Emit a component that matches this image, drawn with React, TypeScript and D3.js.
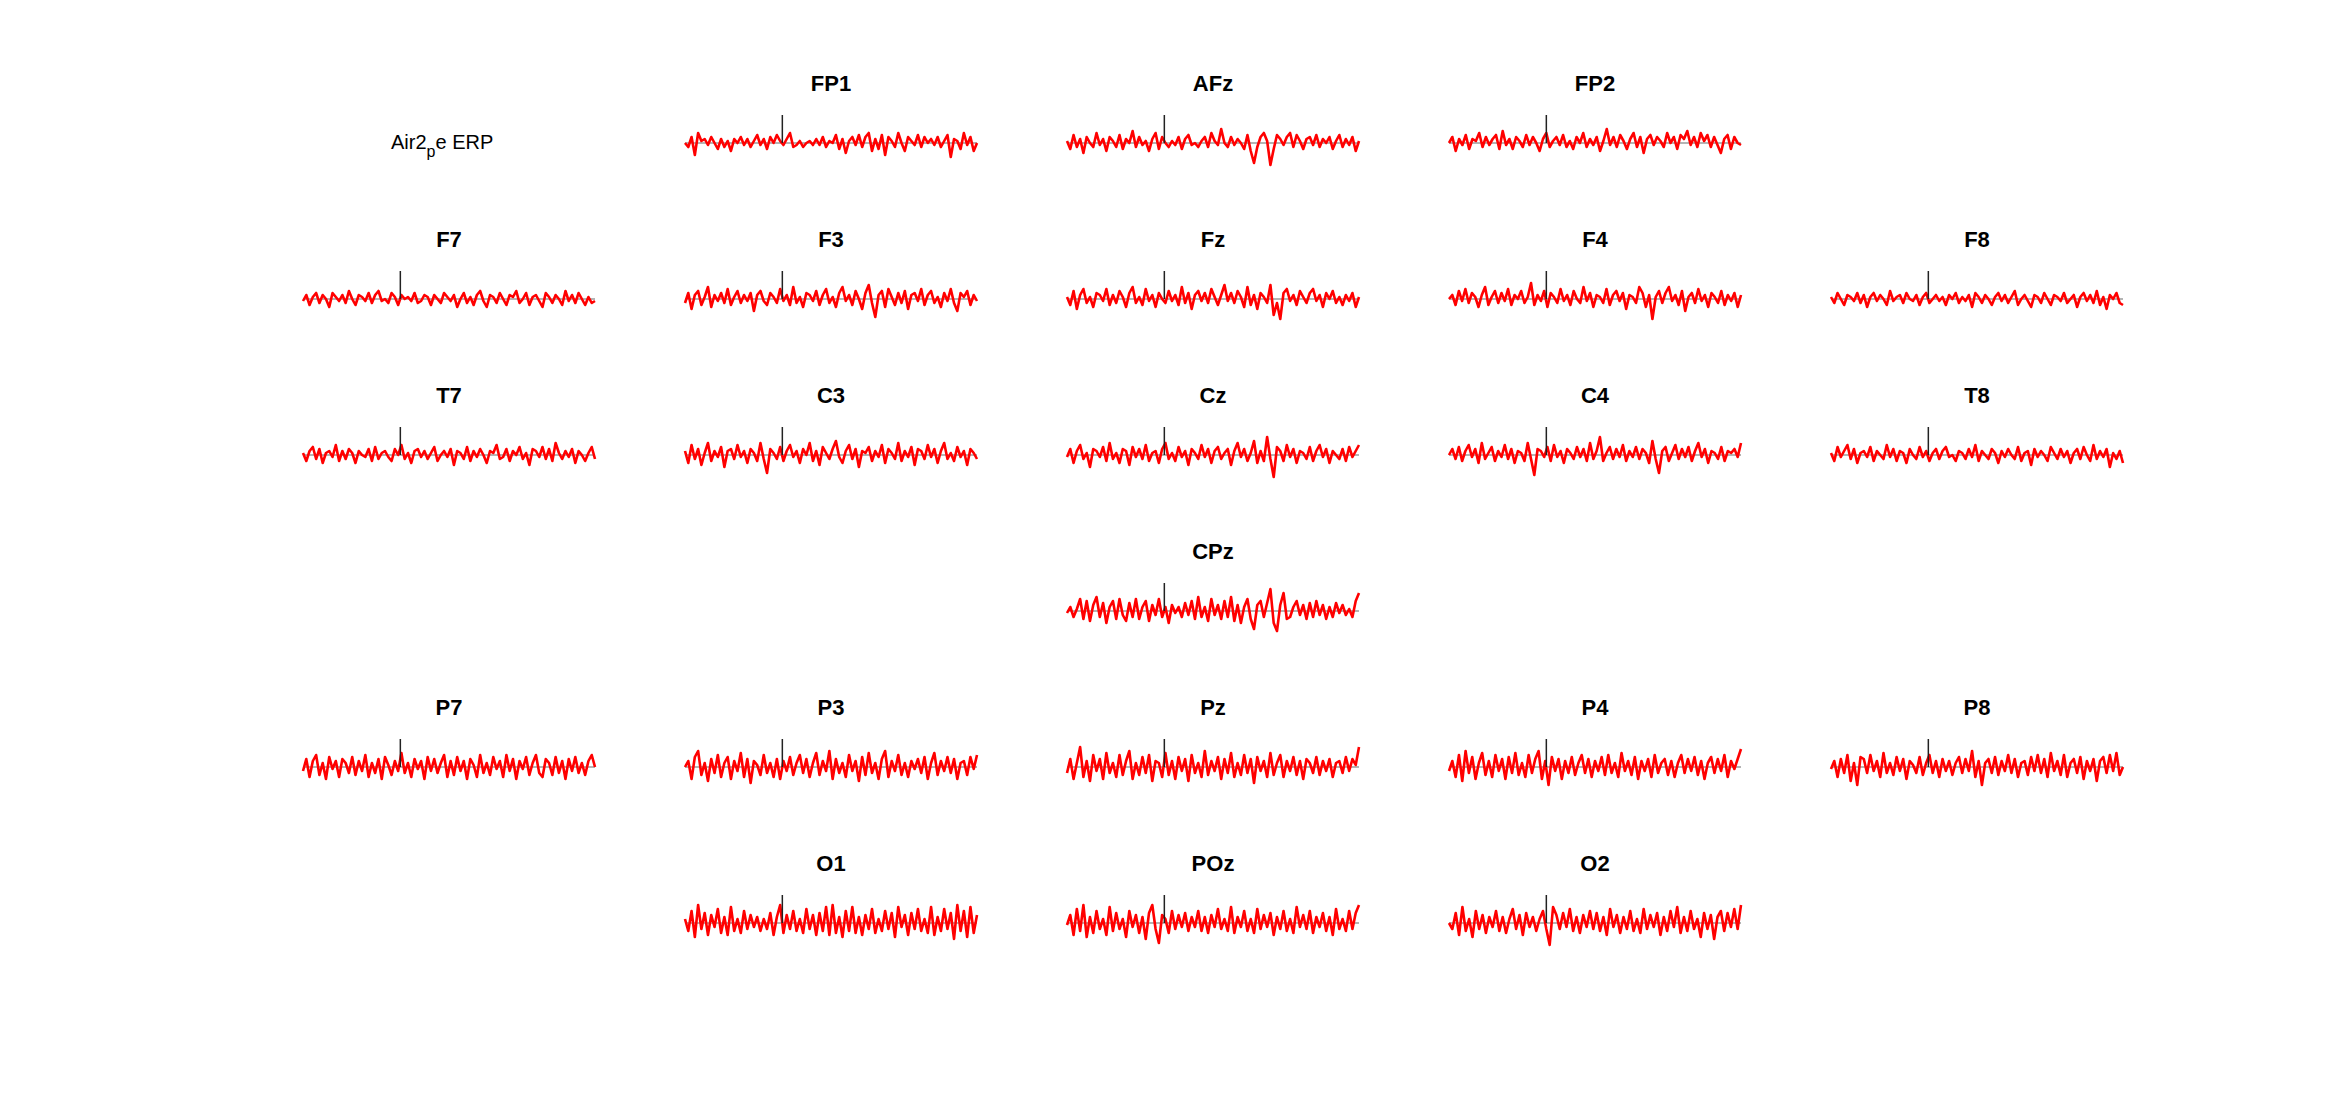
import React from "react";
import * as d3 from "d3";

const WIDTH = 2344;
const HEIGHT = 1094;

const TIME_START = -200;
const TIME_END = 400;
const STIM_LINE_TOP = 14;

const FP1 = [0,-2,3,-6,5,1,2,-1,3,0,-3,2,-2,1,-4,2,0,3,-1,2,-2,1,4,-1,2,-3,3,0,4,1,-1,2,5,-2,-1,1,-2,0,1,-1,2,-1,3,-2,1,0,4,-3,2,-5,1,3,-1,4,-2,3,5,-4,2,-3,4,-6,3,1,-2,5,0,-4,3,1,-1,4,-2,3,0,2,-1,3,-2,1,4,-7,2,1,-3,5,-1,3,-4,0];
const AFz = [1,-3,4,-2,2,-5,3,0,-2,5,-1,2,-4,3,1,-2,4,-3,2,0,6,-2,3,-1,1,-4,2,5,-3,3,0,-2,1,-1,3,-3,2,4,-1,0,-2,1,3,-2,5,1,-1,7,0,-2,3,-1,2,0,-3,4,-4,-10,-2,3,5,1,-11,-3,4,2,-1,3,5,-2,4,1,-3,2,3,-1,4,-2,2,0,3,-3,1,4,-2,2,-1,3,-4,1];
const FP2 = [0,3,-4,2,-1,4,-3,2,1,5,-2,3,-1,2,4,-3,6,-1,2,-3,3,1,-2,4,-1,3,0,-4,2,5,-2,1,3,-1,4,-2,1,-3,3,0,5,-2,2,-1,3,-4,1,7,-1,3,-2,4,1,-3,2,5,-2,3,-5,2,4,-1,3,1,-2,5,0,3,-3,4,2,6,-1,3,-2,5,1,4,-2,3,-1,-5,2,4,-3,3,0,-1];
const F7 = [-1,2,-3,1,3,-2,2,0,-4,3,1,-1,2,-2,4,0,-3,2,1,-1,3,-2,2,4,-1,0,-2,3,1,-3,2,0,1,-1,3,-2,-1,2,1,-3,2,0,-2,3,1,-1,2,-4,0,3,-2,1,-3,2,4,-1,-4,2,1,-2,3,0,-3,2,1,4,-2,0,3,-3,1,2,-1,-4,3,1,-2,2,0,-3,4,-1,2,-2,3,0,-3,1,-2,-1];
const F3 = [-2,3,-5,2,4,-3,1,6,-4,2,-1,3,-2,5,-3,1,4,-2,2,-1,3,-6,2,4,-1,-3,3,1,-2,5,-1,2,-3,6,-2,1,-4,3,2,-1,4,-3,2,5,-2,1,-4,3,6,-1,2,-3,4,0,-5,3,7,-2,-9,2,4,-4,5,1,-3,3,-2,4,-5,2,3,-1,5,-3,2,4,-2,1,-4,3,-1,5,-2,-6,3,1,4,-3,2,-1];
const Fz = [1,-3,4,-5,2,5,-2,1,-4,3,2,-1,5,-3,2,-2,4,1,-4,3,6,-2,1,-3,5,-1,2,-4,3,0,-2,4,-1,2,-3,6,-2,3,-5,2,4,-1,3,-2,5,1,-3,2,7,-1,3,-2,4,1,-4,6,-3,2,-5,3,1,-2,7,-8,-2,-10,3,5,-1,2,-3,4,1,-2,3,5,-1,2,-4,3,0,4,-2,1,-3,2,-1,3,-4,1];
const F4 = [0,2,-3,4,-1,5,-2,3,1,-4,2,6,-3,1,4,-2,3,-1,5,-3,2,0,4,-2,1,8,-3,2,-1,4,-4,3,1,-2,5,-1,2,-3,4,0,-2,6,-1,3,-4,2,1,-2,5,-3,2,4,-1,3,-5,2,1,-2,6,3,-4,2,-10,1,4,-2,3,6,-1,2,-3,4,-6,1,3,-2,5,-1,2,-4,3,1,-2,4,-3,2,-1,3,-4,2];
const F8 = [1,-2,3,0,-3,2,1,-1,3,-2,2,-4,1,3,-1,2,0,-3,4,-1,1,2,-2,3,0,-1,2,-3,1,3,-2,0,2,-1,1,-3,2,0,3,-2,1,-1,2,-4,3,1,-2,2,0,-3,1,3,-1,2,-2,1,4,-3,0,2,-1,-4,2,1,-2,3,0,-3,2,1,-1,3,-2,0,2,-4,1,3,-1,2,-2,4,-3,1,-5,2,0,3,-2,-3];
const T7 = [1,-3,2,4,-2,3,-4,1,2,-1,5,-3,2,-2,3,1,-4,2,0,-1,3,-3,4,-2,1,2,-1,-3,3,0,5,-2,1,-4,2,3,-1,2,-2,1,4,-3,0,2,-1,3,-5,2,1,-2,4,-3,2,-1,3,0,-4,2,1,5,-2,-1,3,-3,2,0,4,-2,1,-5,3,2,-1,4,-2,3,-3,6,1,-2,2,-1,3,-4,2,0,-3,1,4,-2];
const C3 = [2,-4,5,-2,3,-5,1,6,-3,2,-1,4,-6,2,3,-2,5,-1,2,-4,3,1,-3,6,-2,-9,3,1,-2,4,-3,2,5,-1,2,-4,3,0,6,-3,2,-5,4,1,-2,3,7,-1,-4,2,5,-2,3,-6,2,1,4,-3,2,-1,5,-4,3,1,-2,6,-3,2,-1,4,-5,3,2,-2,5,-1,3,-4,2,6,-2,1,-3,4,-1,2,-5,3,1,-2];
const Cz = [-1,3,-4,2,5,-2,1,-6,3,2,-1,4,-3,6,-2,1,-4,3,2,-5,4,-1,3,-2,5,-3,1,2,-4,3,6,-2,1,-3,4,-1,2,-5,3,1,-2,5,-1,3,-4,2,4,-2,1,3,-5,2,6,-1,3,-3,1,7,-4,2,-3,9,-2,-11,4,2,-3,5,-1,3,-4,2,1,-2,4,-3,2,5,-1,3,-4,2,0,-2,3,-3,4,-1,2,5];
const C4 = [0,3,-2,4,-3,2,5,-1,3,-4,6,-2,1,4,-3,2,-1,5,-2,3,-4,2,1,-3,6,-2,-10,3,2,-1,4,-3,5,-1,2,-4,3,1,-2,4,-1,3,-3,6,-2,2,9,-3,1,4,-2,3,-1,5,-3,2,-1,4,-2,3,1,-4,7,-2,-9,2,4,-3,1,5,-2,3,-1,4,-3,2,6,-1,3,-4,2,1,-2,4,-3,2,1,3,-1,6];
const T8 = [1,-3,4,-1,2,5,-2,3,-4,1,2,-1,4,-3,2,0,-2,5,-1,3,-3,2,1,-4,3,0,-2,4,-1,2,-3,1,3,-2,2,4,-1,0,-3,2,1,-2,3,-1,5,-3,2,0,-2,3,1,-4,2,-1,3,0,-2,4,-3,1,2,-5,3,-1,2,0,-3,4,1,-2,3,-1,2,-4,1,3,-2,4,0,-3,5,-2,2,-1,3,-6,1,-2,2,-4];
const CPz = [-1,2,-3,1,6,-4,5,-5,3,7,-3,4,-6,2,5,-4,6,-2,-5,4,-3,6,-4,2,5,-5,3,-2,6,-3,2,-6,3,-1,2,-3,4,-2,5,-4,7,-3,2,-5,6,-2,3,-4,5,-3,7,-5,3,-6,2,6,-4,-9,3,5,-3,4,11,-6,-10,3,9,-4,-3,2,5,-2,3,-4,4,-3,5,-2,3,-4,2,-3,4,-1,3,-2,1,-3,5,9];
const P7 = [-2,4,-5,3,6,-4,2,-6,5,-1,3,-5,4,2,-3,5,-4,3,-2,6,-5,2,-3,4,-6,5,1,-4,3,-2,7,-3,2,-5,4,-1,3,-6,5,-2,4,-3,2,6,-5,3,-4,5,-2,3,-6,4,1,-5,6,-3,2,-4,5,-1,3,-5,6,-2,4,-6,3,-1,5,-4,2,6,-3,-5,4,2,-4,5,-3,3,-6,4,-2,5,-3,2,-4,3,6,0];
const P3 = [0,3,-6,5,8,-4,2,-7,4,-3,6,-5,2,5,-6,3,-2,7,-5,4,-8,3,1,-4,6,-3,2,-5,4,-6,3,-2,5,-4,2,6,-3,4,-5,2,7,-4,3,-2,8,-6,4,-3,2,-5,6,-2,3,-7,5,-4,7,-3,2,-6,4,8,-5,3,-2,6,-4,2,-5,3,-1,4,-3,5,-6,2,7,-4,3,-2,5,-3,4,-6,2,3,-4,5,-1,6];
const Pz = [-3,4,-6,2,10,-5,3,-7,6,-2,4,-6,7,-3,2,-5,6,-4,3,8,-6,2,-4,5,-3,6,-7,3,2,-5,7,-4,3,-6,5,-2,4,-7,6,-3,2,-5,8,-4,3,-2,5,-6,4,-3,7,-5,2,-4,6,-3,4,-8,5,-2,3,-5,7,-4,2,6,-5,3,-2,5,-4,3,-6,4,2,-3,5,-4,3,-2,4,-5,2,3,-3,5,-2,4,1,10];
const P4 = [-2,3,-5,6,-7,8,-3,5,-6,2,7,-4,3,-5,6,-2,4,-6,5,-3,7,-4,2,-5,6,-3,4,8,-6,3,-9,5,-2,4,-6,3,-3,5,-4,2,6,-3,4,-5,3,-2,5,-4,6,-3,2,-5,7,-2,3,-4,5,-6,3,-2,4,-5,6,-3,2,4,-4,3,-5,2,6,-3,4,-2,5,-4,3,-6,2,5,-3,4,-2,6,-5,3,-1,4,9];
const P8 = [-1,3,-5,4,-3,6,-7,2,-9,5,4,-3,6,-2,3,-5,7,-3,2,-4,5,-2,4,-6,3,1,-3,5,-4,2,6,-3,3,-5,4,-2,3,-4,2,5,-3,4,-2,8,-5,3,-9,2,4,-3,5,-4,3,-2,6,-3,4,-5,2,3,-4,5,-2,6,-3,4,-5,7,-2,3,-4,6,-5,2,4,-3,5,-6,3,-2,4,-7,3,5,-3,6,-2,7,-4,0];
const O1 = [2,-4,6,-7,9,-3,5,-6,4,-2,7,-5,3,-6,8,-4,2,-5,6,-3,4,-2,3,-4,2,-3,5,-6,3,9,-5,4,-3,6,-4,2,-5,7,-3,4,-6,5,-4,8,-6,9,-5,3,-7,6,-4,8,-5,3,-6,4,-3,7,-5,2,-4,6,-3,5,-7,8,-2,4,-6,5,-3,7,-4,2,-5,8,-6,3,-4,7,-3,5,-8,9,-4,6,-7,8,-5,4];
const POz = [-1,4,-6,7,-4,9,-7,3,-5,6,-3,2,-6,8,-4,5,-3,2,-7,6,-2,4,-5,3,-8,5,9,-3,-10,4,2,-5,6,-3,4,-2,5,-4,3,-2,6,-4,3,-5,4,-2,7,-3,2,-4,8,-5,3,-2,6,-4,2,-5,7,-3,4,-2,5,-6,3,-3,6,-4,2,-5,8,-2,4,-3,6,-5,3,-2,5,-4,3,-6,7,-3,2,-4,6,-3,5,9];
const O2 = [0,-3,5,-6,8,-4,2,-7,6,-3,4,-5,3,-2,6,-4,3,-5,2,7,-3,4,-6,5,-2,3,-4,2,6,-3,-11,8,4,-3,5,-2,7,-4,3,-5,4,-2,6,-3,5,-4,3,-6,7,-2,4,-5,3,-3,6,-4,2,-5,7,-3,4,-2,5,-6,3,-4,6,-2,8,-5,3,-4,6,-3,2,-7,5,-3,4,-8,3,6,-4,5,-2,7,-3,9];

const CHANNEL_NAMES = ["FP1","AFz","FP2","F7","F3","Fz","F4","F8","T7","C3","Cz","C4","T8","CPz","P7","P3","Pz","P4","P8","O1","POz","O2"];
const CHANNEL_ROWS = [0,0,0,1,1,1,1,1,2,2,2,2,2,3,4,4,4,4,4,5,5,5];
const CHANNEL_COLS = [1,2,3,0,1,2,3,4,0,1,2,3,4,2,0,1,2,3,4,1,2,3];
const CHANNEL_DATA = [FP1,AFz,FP2,F7,F3,Fz,F4,F8,T7,C3,Cz,C4,T8,CPz,P7,P3,Pz,P4,P8,O1,POz,O2];

const COL_X0 = 303;
const COL_STEP = 382;
const PANEL_W = 292;
const ROW_Y0 = 143;
const ROW_STEP = 156;

export default function App() {
  const yScale = d3.scaleLinear().domain([-15, 15]).range([30, -30]);
  const xScale = d3.scaleLinear().domain([TIME_START, TIME_END]).range([0, PANEL_W]);

  return (
    <svg width={WIDTH} height={HEIGHT} style={{ position: "absolute", left: 0, top: 0, background: "#fff" }}
      fontFamily="Liberation Sans, Arial, sans-serif">
      <rect x={0} y={0} width={WIDTH} height={HEIGHT} fill="#fff" />
      <text x={391} y={149} fontSize={20} fill="#000">
        Air2
        <tspan dy={8} fontSize={16}>p</tspan>
        <tspan dy={-8}>e ERP</tspan>
      </text>
      {CHANNEL_NAMES.map((name, ci) => {
        const data = CHANNEL_DATA[ci];
        const tx = COL_X0 + CHANNEL_COLS[ci] * COL_STEP;
        const ty = ROW_Y0 + CHANNEL_ROWS[ci] * ROW_STEP;
        const n = data.length;
        const line = d3.line<number>()
          .x((_, i) => xScale(TIME_START + (i / (n - 1)) * (TIME_END - TIME_START)))
          .y((v) => yScale(v));
        return (
          <g key={name} transform={`translate(${tx},${ty})`}>
            <text x={PANEL_W / 2} y={-52} textAnchor="middle" fontSize={22} fontWeight="bold" fill="#000">{name}</text>
            <line x1={xScale(TIME_START)} x2={xScale(TIME_END)} y1={yScale(0)} y2={yScale(0)} stroke="#b4b4b4" strokeWidth={2} />
            <path d={line(data) || ""} fill="none" stroke="#ff0000" strokeWidth={2.6} strokeLinejoin="round" />
            <line x1={xScale(0)} x2={xScale(0)} y1={yScale(0)} y2={yScale(STIM_LINE_TOP)} stroke="#222" strokeWidth={1.5} />
          </g>
        );
      })}
    </svg>
  );
}
